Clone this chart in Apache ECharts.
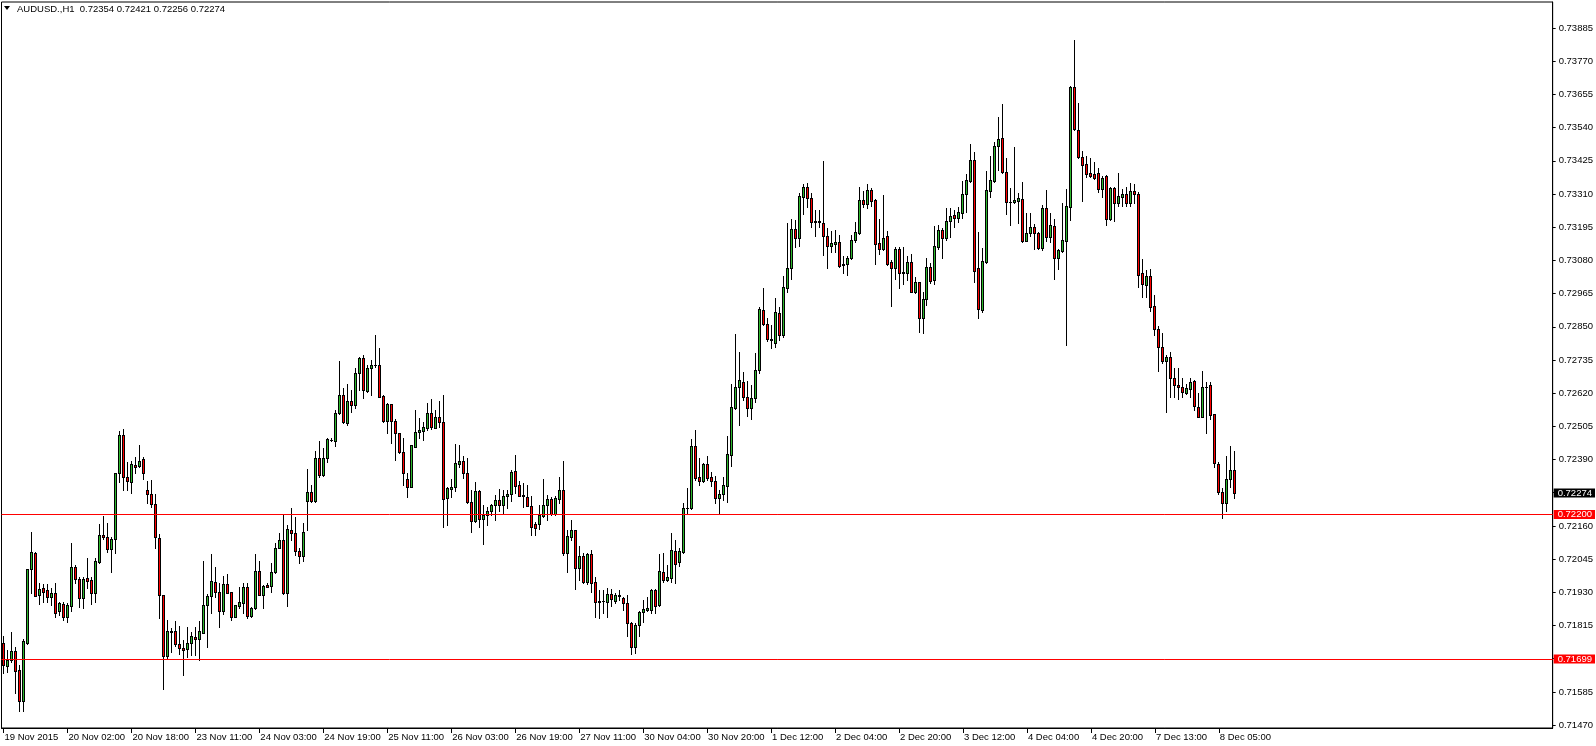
<!DOCTYPE html>
<html><head><meta charset="utf-8">
<script src="https://cdn.jsdelivr.net/npm/echarts@6/dist/echarts.min.js"></script>
<style>html,body{margin:0;padding:0;background:#fff}#c{width:1596px;height:746px}</style>
</head><body><div id="c"></div>
<script>
const symbolName = 'AUDUSD.,H1';
const xTickLabels = ['19 Nov 2015','20 Nov 02:00','20 Nov 18:00','23 Nov 11:00','24 Nov 03:00','24 Nov 19:00','25 Nov 11:00','26 Nov 03:00','26 Nov 19:00','27 Nov 11:00','30 Nov 04:00','30 Nov 20:00','1 Dec 12:00','2 Dec 04:00','2 Dec 20:00','3 Dec 12:00','4 Dec 04:00','4 Dec 20:00','7 Dec 13:00','8 Dec 05:00'];
const yTickLabels = [0.73885,0.73770,0.73655,0.73540,0.73425,0.73310,0.73195,0.73080,0.72965,0.72850,0.72735,0.72620,0.72505,0.72390,0.72275,0.72160,0.72045,0.71930,0.71815,0.71700,0.71585,0.71470];
const yMin = 0.71460, yMax = 0.73975;
const levelLines = [0.72200, 0.71699];
const lastPrice = 0.72274;

const opens = [
0.71755,0.71676,0.71695,0.71727,0.71661,0.71554,0.71755,0.72010,0.72066,0.71922,0.71944,0.71937,0.71913,0.71926,0.71866,0.71889,
0.71846,0.71884,0.72018,0.71975,0.71911,0.71978,0.71971,0.71926,0.72035,0.72127,0.72120,0.72081,0.72114,0.72342,0.72474,0.72328,
0.72313,0.72371,0.72368,0.72391,0.72285,0.72271,0.72235,0.72117,0.71920,0.71711,0.71793,0.71795,0.71750,0.71736,0.71733,0.71753,
0.71774,0.71767,0.71790,0.71885,0.71917,0.71965,0.71930,0.71867,0.71958,0.71930,0.71846,0.71882,0.71892,0.71949,0.71849,0.71875,
0.72004,0.71920,0.71956,0.71953,0.72000,0.72085,0.72111,0.71927,0.72146,0.72135,0.72073,0.72055,0.72247,0.72276,0.72247,0.72394,
0.72336,0.72397,0.72458,0.72455,0.72550,0.72613,0.72518,0.72592,0.72578,0.72689,0.72741,0.72628,0.72706,0.72716,0.72716,0.72610,
0.72525,0.72581,0.72525,0.72481,0.72417,0.72322,0.72296,0.72434,0.72484,0.72490,0.72498,0.72550,0.72498,0.72536,0.72521,0.72256,
0.72287,0.72294,0.72374,0.72384,0.72343,0.72244,0.72176,0.72280,0.72183,0.72197,0.72211,0.72232,0.72249,0.72234,0.72262,0.72269,
0.72349,0.72301,0.72267,0.72259,0.72230,0.72166,0.72166,0.72195,0.72232,0.72254,0.72202,0.72255,0.72284,0.72067,0.72123,0.72146,
0.72013,0.72055,0.71965,0.72063,0.71965,0.71898,0.71900,0.71898,0.71923,0.71901,0.71916,0.71909,0.71892,0.71823,0.71742,0.71816,
0.71861,0.71869,0.71869,0.71938,0.71886,0.71999,0.71973,0.71981,0.72073,0.72034,0.72071,0.72221,0.72223,0.72436,0.72329,0.72314,
0.72375,0.72329,0.72317,0.72256,0.72271,0.72300,0.72406,0.72568,0.72640,0.72660,0.72606,0.72568,0.72602,0.72700,0.72908,0.72861,
0.72809,0.72795,0.72899,0.72823,0.72983,0.73055,0.73187,0.73159,0.73300,0.73333,0.73295,0.73214,0.73215,0.73211,0.73166,0.73131,
0.73136,0.73142,0.73069,0.73068,0.73087,0.73150,0.73176,0.73289,0.73275,0.73323,0.73289,0.73139,0.73121,0.73164,0.73073,0.73052,
0.73119,0.73037,0.73037,0.73073,0.72972,0.73004,0.72879,0.72945,0.73056,0.73012,0.73127,0.73185,0.73156,0.73218,0.73237,0.73228,
0.73243,0.73309,0.73356,0.73428,0.73055,0.72908,0.73076,0.73322,0.73356,0.73476,0.73503,0.73387,0.73281,0.73281,0.73287,0.73291,
0.73148,0.73174,0.73195,0.73174,0.73122,0.73263,0.73160,0.73200,0.73087,0.73113,0.73148,0.73266,0.73679,0.73532,0.73439,0.73413,
0.73381,0.73379,0.73381,0.73326,0.73372,0.73223,0.73329,0.73277,0.73300,0.73310,0.73277,0.73321,0.73310,0.73036,0.72994,0.73027,
0.72922,0.72842,0.72779,0.72730,0.72745,0.72672,0.72649,0.72641,0.72620,0.72634,0.72661,0.72571,0.72539,0.72641,0.72648,0.72547,
0.72374,0.72277,0.72241,0.72322,0.72354];

const highs = [
0.71779,0.71730,0.71792,0.71742,0.71678,0.71770,0.72012,0.72138,0.72069,0.71961,0.71959,0.71959,0.71944,0.71961,0.71898,0.71898,
0.71894,0.72100,0.72025,0.71984,0.71984,0.72048,0.71982,0.72050,0.72167,0.72194,0.72169,0.72123,0.72345,0.72490,0.72495,0.72383,
0.72386,0.72400,0.72440,0.72398,0.72314,0.72319,0.72271,0.72131,0.71920,0.71834,0.71805,0.71829,0.71814,0.71765,0.71811,0.71794,
0.71811,0.71829,0.72040,0.71923,0.72063,0.72019,0.71961,0.71987,0.71994,0.71932,0.71887,0.71950,0.71961,0.71961,0.71880,0.72063,
0.72039,0.71957,0.71961,0.72031,0.72100,0.72135,0.72198,0.72163,0.72221,0.72192,0.72085,0.72169,0.72357,0.72302,0.72419,0.72454,
0.72431,0.72463,0.72463,0.72561,0.72731,0.72637,0.72650,0.72631,0.72706,0.72746,0.72752,0.72717,0.72735,0.72821,0.72775,0.72613,
0.72585,0.72581,0.72529,0.72481,0.72463,0.72342,0.72440,0.72561,0.72533,0.72521,0.72585,0.72600,0.72561,0.72593,0.72613,0.72296,
0.72322,0.72444,0.72441,0.72403,0.72394,0.72285,0.72312,0.72285,0.72233,0.72227,0.72235,0.72267,0.72287,0.72285,0.72285,0.72354,
0.72406,0.72314,0.72308,0.72302,0.72264,0.72175,0.72233,0.72322,0.72267,0.72259,0.72262,0.72329,0.72385,0.72146,0.72181,0.72146,
0.72091,0.72065,0.72065,0.72077,0.71984,0.71938,0.71938,0.71944,0.71941,0.71927,0.71938,0.71915,0.71921,0.71828,0.71823,0.71866,
0.71904,0.71915,0.71941,0.71941,0.72062,0.72065,0.72025,0.72135,0.72111,0.72083,0.72238,0.72290,0.72461,0.72493,0.72394,0.72377,
0.72402,0.72348,0.72334,0.72285,0.72331,0.72470,0.72652,0.72824,0.72764,0.72692,0.72662,0.72649,0.72758,0.72919,0.72985,0.72879,
0.72856,0.72948,0.72919,0.73025,0.73210,0.73223,0.73219,0.73312,0.73346,0.73349,0.73312,0.73256,0.73256,0.73425,0.73191,0.73181,
0.73185,0.73167,0.73095,0.73095,0.73167,0.73214,0.73335,0.73321,0.73344,0.73329,0.73291,0.73223,0.73306,0.73182,0.73081,0.73127,
0.73127,0.73125,0.73096,0.73101,0.73024,0.73006,0.72969,0.73087,0.73070,0.73199,0.73203,0.73193,0.73260,0.73260,0.73254,0.73264,
0.73355,0.73378,0.73482,0.73454,0.73177,0.73122,0.73390,0.73442,0.73491,0.73578,0.73622,0.73434,0.73330,0.73471,0.73315,0.73350,
0.73245,0.73243,0.73205,0.73179,0.73272,0.73324,0.73243,0.73225,0.73121,0.73280,0.73326,0.73684,0.73843,0.73626,0.73460,0.73441,
0.73434,0.73422,0.73399,0.73372,0.73375,0.73333,0.73333,0.73381,0.73326,0.73333,0.73347,0.73343,0.73318,0.73085,0.73047,0.73049,
0.72961,0.72853,0.72828,0.72753,0.72761,0.72706,0.72706,0.72672,0.72652,0.72672,0.72666,0.72620,0.72698,0.72658,0.72657,0.72547,
0.72380,0.72291,0.72403,0.72437,0.72421];

const lows = [
0.71649,0.71655,0.71690,0.71582,0.71520,0.71520,0.71751,0.71926,0.71917,0.71889,0.71898,0.71898,0.71886,0.71843,0.71851,0.71834,
0.71826,0.71866,0.71963,0.71880,0.71877,0.71944,0.71888,0.71898,0.72030,0.72114,0.72071,0.72001,0.72067,0.72313,0.72284,0.72284,
0.72275,0.72342,0.72365,0.72321,0.72239,0.72227,0.72083,0.71840,0.71594,0.71701,0.71725,0.71744,0.71716,0.71645,0.71707,0.71713,
0.71713,0.71696,0.71788,0.71742,0.71857,0.71915,0.71811,0.71855,0.71927,0.71834,0.71846,0.71875,0.71857,0.71840,0.71846,0.71872,
0.71920,0.71875,0.71948,0.71930,0.71996,0.72083,0.71924,0.71884,0.72111,0.72060,0.72030,0.72040,0.72146,0.72244,0.72244,0.72330,
0.72334,0.72382,0.72454,0.72438,0.72547,0.72515,0.72510,0.72553,0.72567,0.72631,0.72602,0.72625,0.72613,0.72712,0.72608,0.72521,
0.72481,0.72446,0.72388,0.72411,0.72302,0.72261,0.72296,0.72434,0.72463,0.72458,0.72492,0.72496,0.72498,0.72504,0.72157,0.72163,
0.72259,0.72282,0.72363,0.72325,0.72241,0.72140,0.72173,0.72155,0.72097,0.72163,0.72197,0.72181,0.72210,0.72206,0.72221,0.72248,
0.72273,0.72262,0.72227,0.72230,0.72129,0.72129,0.72148,0.72190,0.72181,0.72198,0.72198,0.72241,0.72060,0.72002,0.72111,0.71942,
0.71971,0.71961,0.71959,0.71932,0.71844,0.71840,0.71857,0.71846,0.71884,0.71892,0.71904,0.71869,0.71777,0.71715,0.71719,0.71777,
0.71828,0.71866,0.71857,0.71857,0.71884,0.71967,0.71969,0.71967,0.71961,0.72022,0.72065,0.72204,0.72219,0.72319,0.72302,0.72311,
0.72319,0.72300,0.72238,0.72200,0.72250,0.72242,0.72369,0.72565,0.72508,0.72597,0.72542,0.72531,0.72590,0.72690,0.72856,0.72801,
0.72775,0.72780,0.72804,0.72815,0.72970,0.73014,0.73125,0.73129,0.73240,0.73266,0.73196,0.73164,0.73196,0.73098,0.73055,0.73110,
0.73110,0.73058,0.73035,0.73029,0.73084,0.73144,0.73173,0.73266,0.73263,0.73268,0.73067,0.73102,0.73115,0.73064,0.72923,0.73017,
0.72983,0.72998,0.73012,0.72972,0.72968,0.72833,0.72830,0.72925,0.73000,0.72997,0.73119,0.73089,0.73151,0.73162,0.73197,0.73212,
0.73226,0.73246,0.73350,0.73004,0.72882,0.72902,0.73070,0.73301,0.73353,0.73393,0.73382,0.73241,0.73203,0.73278,0.73208,0.73145,
0.73148,0.73166,0.73119,0.73119,0.73116,0.73148,0.73145,0.73014,0.73049,0.73110,0.72787,0.73220,0.73532,0.73433,0.73287,0.73370,
0.73370,0.73362,0.73318,0.73298,0.73202,0.73220,0.73217,0.73268,0.73268,0.73268,0.73268,0.73277,0.72986,0.72952,0.72952,0.72906,
0.72822,0.72698,0.72726,0.72556,0.72606,0.72608,0.72599,0.72608,0.72616,0.72606,0.72560,0.72537,0.72537,0.72481,0.72530,0.72363,
0.72271,0.72187,0.72210,0.72294,0.72256];

const closes = [
0.71678,0.71695,0.71727,0.71658,0.71554,0.71761,0.72010,0.72069,0.71919,0.71940,0.71932,0.71913,0.71926,0.71859,0.71892,0.71846,
0.71886,0.72018,0.71975,0.71911,0.71977,0.71970,0.71926,0.72037,0.72127,0.72120,0.72079,0.72114,0.72342,0.72474,0.72328,0.72317,
0.72373,0.72365,0.72386,0.72345,0.72270,0.72235,0.72121,0.71920,0.71711,0.71795,0.71795,0.71750,0.71736,0.71731,0.71756,0.71779,
0.71767,0.71796,0.71886,0.71917,0.71968,0.71930,0.71867,0.71958,0.71929,0.71846,0.71885,0.71895,0.71949,0.71849,0.71875,0.72004,
0.71920,0.71952,0.71950,0.72002,0.72083,0.72111,0.71927,0.72148,0.72135,0.72073,0.72055,0.72140,0.72276,0.72247,0.72394,0.72336,
0.72397,0.72460,0.72459,0.72550,0.72613,0.72521,0.72592,0.72578,0.72689,0.72741,0.72631,0.72706,0.72717,0.72716,0.72608,0.72525,
0.72581,0.72525,0.72481,0.72417,0.72342,0.72296,0.72440,0.72484,0.72491,0.72501,0.72550,0.72501,0.72536,0.72521,0.72255,0.72291,
0.72295,0.72377,0.72384,0.72343,0.72244,0.72176,0.72280,0.72183,0.72197,0.72211,0.72232,0.72249,0.72234,0.72263,0.72271,0.72346,
0.72300,0.72265,0.72262,0.72230,0.72158,0.72154,0.72197,0.72232,0.72254,0.72202,0.72256,0.72284,0.72066,0.72124,0.72146,0.72013,
0.72055,0.71965,0.72063,0.71961,0.71898,0.71900,0.71899,0.71923,0.71906,0.71921,0.71921,0.71892,0.71823,0.71742,0.71817,0.71861,
0.71872,0.71875,0.71938,0.71884,0.72004,0.71973,0.71982,0.72076,0.72028,0.72073,0.72221,0.72223,0.72436,0.72327,0.72314,0.72375,
0.72327,0.72317,0.72256,0.72270,0.72302,0.72409,0.72571,0.72640,0.72665,0.72606,0.72568,0.72602,0.72700,0.72911,0.72859,0.72809,
0.72804,0.72902,0.72823,0.72986,0.73055,0.73187,0.73159,0.73303,0.73333,0.73295,0.73214,0.73216,0.73213,0.73165,0.73131,0.73139,
0.73142,0.73061,0.73064,0.73087,0.73152,0.73177,0.73289,0.73275,0.73323,0.73286,0.73136,0.73121,0.73159,0.73067,0.73052,0.73119,
0.73037,0.73038,0.73073,0.72972,0.73004,0.72879,0.72945,0.73058,0.73010,0.73131,0.73185,0.73159,0.73218,0.73235,0.73228,0.73246,
0.73310,0.73358,0.73428,0.73043,0.72910,0.73078,0.73324,0.73358,0.73476,0.73501,0.73387,0.73281,0.73282,0.73288,0.73295,0.73148,
0.73174,0.73195,0.73174,0.73122,0.73260,0.73160,0.73203,0.73087,0.73116,0.73150,0.73268,0.73682,0.73534,0.73439,0.73410,0.73379,
0.73373,0.73366,0.73326,0.73367,0.73225,0.73329,0.73277,0.73303,0.73310,0.73277,0.73321,0.73310,0.73029,0.72997,0.73027,0.72920,
0.72842,0.72779,0.72730,0.72745,0.72672,0.72649,0.72641,0.72623,0.72637,0.72659,0.72574,0.72539,0.72641,0.72643,0.72545,0.72377,
0.72276,0.72241,0.72322,0.72354,0.72274];

const N_SLOTS = 388, STEP = 16;
const FONT = 'Liberation Sans';
const UP = '#2db82d', DOWN = '#ff0000';
const cats = Array.from({length: N_SLOTS}, (_, i) => String(i));
const candles = opens.map((o, i) => [i, o, closes[i], lows[i], highs[i]]);
const showTick = (i) => i % STEP === 0 && i / STEP < xTickLabels.length;
const overlayPrices = levelLines.concat([lastPrice]);
const shownYLabels = yTickLabels.filter(v => !overlayPrices.some(p => Math.abs(p - v) < 0.0001));
const last = opens.length - 1;
const titleText = symbolName + '  ' + [opens[last], highs[last], lows[last], closes[last]].map(v => v.toFixed(5)).join(' ');

function renderCandle(params, api) {
  const idx = api.value(0), o = api.value(1), c = api.value(2), l = api.value(3), h = api.value(4);
  const pO = api.coord([idx, o]), pC = api.coord([idx, c]);
  const pH = api.coord([idx, h]), pL = api.coord([idx, l]);
  const x = Math.floor(pO[0]);
  const yTop = Math.round(Math.min(pO[1], pC[1]));
  const yBot = Math.round(Math.max(pO[1], pC[1]));
  const yH = Math.round(pH[1]), yL = Math.round(pL[1]);
  const children = [
    {type: 'rect', shape: {x: x, y: yH, width: 1, height: Math.max(1, yL - yH + 1)}, style: {fill: '#000'}},
    {type: 'rect', shape: {x: x - 1, y: yTop, width: 3, height: Math.max(1, yBot - yTop + 1)}, style: {fill: '#000'}}
  ];
  if (yBot - yTop >= 2) {
    children.push({type: 'rect', shape: {x: x, y: yTop + 1, width: 1, height: yBot - yTop - 1},
      style: {fill: c >= o ? UP : DOWN}});
  }
  return {type: 'group', children: children};
}

const boxLabel = (bg) => ({
  show: true, position: 'end', distance: 1, formatter: (p) => Number(p.value).toFixed(5),
  color: '#fff', backgroundColor: bg, fontSize: 9.5, fontFamily: FONT,
  padding: [0, 3, 0, 4], lineHeight: 9, opacity: 1
});

const chart = echarts.init(document.getElementById('c'), null, {renderer: 'canvas'});
chart.setOption({
  animation: false,
  backgroundColor: '#ffffff',
  grid: {left: 1.5, top: 2, width: 1552, height: 726, show: true, borderColor: '#000', borderWidth: 1, backgroundColor: 'transparent'},
  xAxis: {
    type: 'category', data: cats, boundaryGap: true,
    axisLine: {show: true, lineStyle: {color: '#000', width: 1}},
    axisTick: {show: true, interval: (i) => showTick(i), alignWithLabel: true, length: 5, lineStyle: {color: '#000'}},
    axisLabel: {interval: (i) => showTick(i), formatter: (v, i) => xTickLabels[i / STEP] || '', align: 'left',
      margin: 4, fontSize: 9.5, fontFamily: FONT, color: '#000', padding: [0, 0, 0, 1]},
    splitLine: {show: false}
  },
  yAxis: {
    type: 'value', position: 'right', min: yMin, max: yMax,
    axisLine: {show: true, lineStyle: {color: '#000'}},
    axisTick: {show: true, customValues: yTickLabels, length: 3, lineStyle: {color: '#000'}},
    axisLabel: {customValues: shownYLabels, formatter: (v) => Number(v).toFixed(5), margin: 6,
      fontSize: 9.5, fontFamily: FONT, color: '#000'},
    splitLine: {show: false}
  },
  series: [
    {
      type: 'custom', data: candles, renderItem: renderCandle,
      encode: {x: 0, y: [1, 2, 3, 4]}, clip: true, silent: true
    },
    {
      type: 'line', data: [], silent: true,
      markLine: {
        silent: true, symbol: ['none', 'none'], animation: false, precision: 5,
        data: [
          {yAxis: levelLines[0], lineStyle: {color: '#ff0000', width: 1, type: 'solid'}, label: boxLabel('#ff0000')},
          {yAxis: levelLines[1], lineStyle: {color: '#ff0000', width: 1, type: 'solid'}, label: boxLabel('#ff0000')},
          {yAxis: lastPrice, lineStyle: {color: 'rgba(0,0,0,0)', width: 1, type: 'solid'}, label: boxLabel('#000000')}
        ]
      }
    }
  ],
  graphic: [
    {type: 'polygon', shape: {points: [[4, 6], [10, 6], [7, 10]]}, style: {fill: '#000'}},
    {type: 'text', left: 17, top: 4, style: {text: titleText, fill: '#000', font: '9.5px "Liberation Sans"'}}
  ]
});
</script>
</body></html>
